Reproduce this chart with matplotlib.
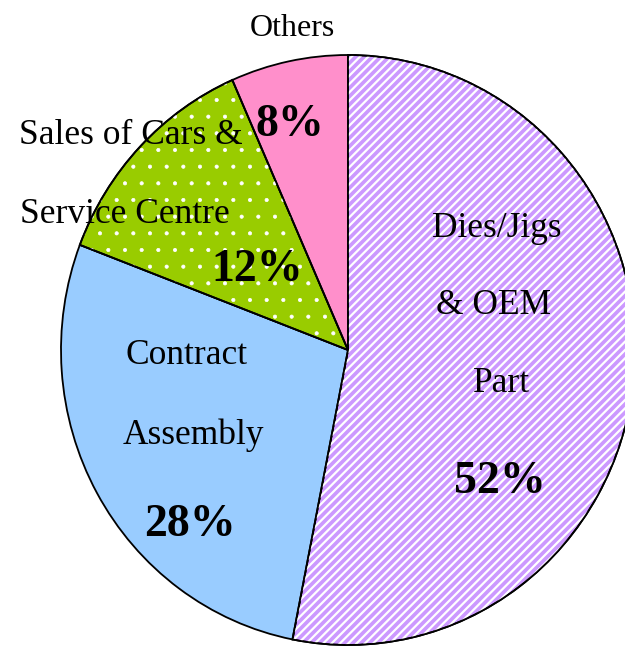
import matplotlib
matplotlib.use("Agg")
import matplotlib.pyplot as plt
import matplotlib.patches as mpatches
import numpy as np

categories = ["Dies/Jigs & OEM Part", "Contract Assembly", "Sales of Cars & Service Centre", "Others"]
values = [53.1, 27.7, 12.6, 6.6]
pct_labels = ["52%", "28%", "12%", "8%"]
colors = ["#cc99ff", "#99ccff", "#99cc00", "#ff8fcb"]
hatches = ["////", None, ".", None]
hatch_lw = [1.6, None, 0.5, None]

W, H = 625, 647
fig = plt.figure(figsize=(W / 100, H / 100), dpi=100)
ax = fig.add_axes([0, 0, 1, 1])

cx, cy, rx, ry = 348, 350, 287, 295
wedges, _ = ax.pie(values, colors=colors, startangle=90, counterclock=False,
                   radius=1, center=(0, 0),
                   wedgeprops=dict(edgecolor="black", linewidth=1.3))
for w, h, lw in zip(wedges, hatches, hatch_lw):
    if h:
        plt.rcParams["hatch.linewidth"] = lw
        hp = mpatches.Wedge(w.center, w.r, w.theta1, w.theta2, facecolor="none",
                            edgecolor="white", linewidth=0, hatch=h)
        ax.add_patch(hp)
        ol = mpatches.Wedge(w.center, w.r, w.theta1, w.theta2, fill=False,
                            edgecolor="black", linewidth=1.3)
        ax.add_patch(ol)

ax.set_aspect("auto")
ax.set_xlim(-cx / rx, (W - cx) / rx)
ax.set_ylim((cy - H) / ry, cy / ry)
ax.axis("off")

def t(x, y, s, size=25.5, bold=False):
    fig.text(x / W, 1 - y / H, s, ha="center", va="center", fontsize=size,
             family="Liberation Serif", fontweight="bold" if bold else "normal")

t(292, 28, "Others", 23)
t(131, 135, "Sales of Cars &")
t(125, 215, "Service Centre")
t(257, 270, pct_labels[2], 33, True)
t(290, 125, pct_labels[3], 33, True)
t(497, 228, "Dies/Jigs")
t(494, 305, "& OEM")
t(502, 383, "Part")
t(500, 482, pct_labels[0], 33, True)
t(187, 355, "Contract")
t(193, 435, "Assembly")
t(190, 525, pct_labels[1], 33, True)

fig.savefig("out.png", dpi=100)
